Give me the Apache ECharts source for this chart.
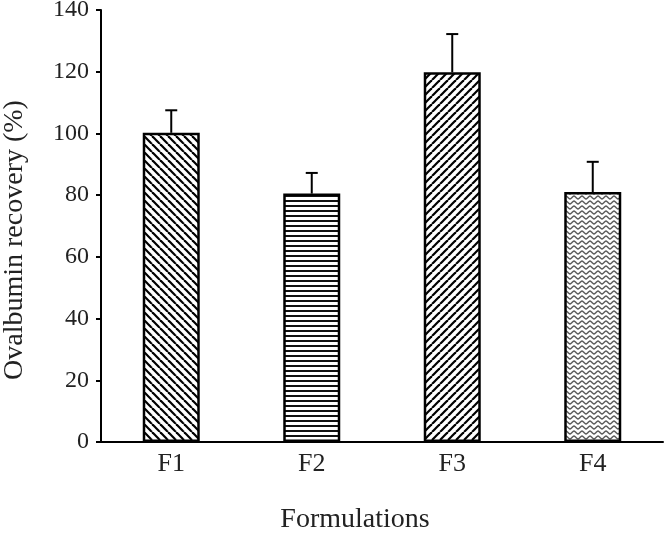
<!DOCTYPE html>
<html><head><meta charset="utf-8">
<script src="https://cdn.jsdelivr.net/npm/echarts@6/dist/echarts.min.js"></script>
<style>html,body{margin:0;padding:0;background:#fff}#c{width:666px;height:533px}</style>
</head><body><div id="c"></div>
<script>
var categories = ['F1', 'F2', 'F3', 'F4'];
var recovery = [100.2, 80.5, 119.8, 81.0];
var errorUp = [7.3, 6.7, 12.4, 9.8];
var yTicks = [0, 20, 40, 60, 80, 100, 120, 140];

function makePattern(kind) {
  var c = document.createElement('canvas');
  var ctx;
  if (kind === 'back') {
    c.width = 8; c.height = 8; ctx = c.getContext('2d');
    ctx.fillStyle = '#fff'; ctx.fillRect(0,0,8,8);
    ctx.strokeStyle = '#000'; ctx.lineWidth = 2.2;
    for (var k = -8; k <= 16; k += 8) { ctx.beginPath(); ctx.moveTo(k, 0); ctx.lineTo(k + 8, 8); ctx.stroke(); }
  } else if (kind === 'fwd') {
    c.width = 8; c.height = 8; ctx = c.getContext('2d');
    ctx.fillStyle = '#fff'; ctx.fillRect(0,0,8,8);
    ctx.strokeStyle = '#000'; ctx.lineWidth = 2.2;
    for (var k = -8; k <= 16; k += 8) { ctx.beginPath(); ctx.moveTo(k, 8); ctx.lineTo(k + 8, 0); ctx.stroke(); }
  } else if (kind === 'horiz') {
    c.width = 4; c.height = 5; ctx = c.getContext('2d');
    ctx.fillStyle = '#fff'; ctx.fillRect(0,0,4,5);
    ctx.fillStyle = '#111'; ctx.fillRect(0,0,4,2);
  } else {
    c.width = 8; c.height = 5; ctx = c.getContext('2d');
    ctx.fillStyle = '#fff'; ctx.fillRect(0,0,8,5);
    ctx.strokeStyle = '#5e5e5e'; ctx.lineWidth = 1.5;
    ctx.beginPath();
    for (var x = -1; x <= 9; x += 0.5) {
      var y = 2.5 + 1.4 * Math.sin(x / 8 * 2 * Math.PI);
      if (x === -1) ctx.moveTo(x, y); else ctx.lineTo(x, y);
    }
    ctx.stroke();
  }
  return { image: c, repeat: 'repeat' };
}
var patterns = [makePattern('back'), makePattern('horiz'), makePattern('fwd'), makePattern('wave')];

var chart = echarts.init(document.getElementById('c'), null, { renderer: 'canvas' });
var font = '"Liberation Serif", "Times New Roman", serif';
chart.setOption({
  animation: false,
  grid: { left: 101, right: 3, top: 10, bottom: 91, containLabel: false, outerBoundsMode: 'none' },
  xAxis: {
    type: 'category', data: categories,
    name: 'Formulations', nameLocation: 'middle', nameGap: 64, nameMoveOverlap: false,
    nameTextStyle: { fontFamily: font, fontSize: 28, color: '#222', padding: [0, 54, 0, 0] },
    axisLine: { lineStyle: { color: '#000', width: 2 } },
    axisTick: { show: false },
    axisLabel: { fontFamily: font, fontSize: 26, color: '#222', margin: 9 }
  },
  yAxis: {
    type: 'value', min: 0, max: 140, interval: 20,
    name: 'Ovalbumin recovery (%)', nameLocation: 'middle', nameGap: 72, nameMoveOverlap: false,
    nameTextStyle: { fontFamily: font, fontSize: 28, color: '#222', padding: [0, 28, 0, 0] },
    axisLine: { show: true, lineStyle: { color: '#000', width: 2 } },
    axisTick: { show: true, inside: false, length: 5, lineStyle: { color: '#000', width: 2 } },
    splitLine: { show: false },
    axisLabel: { fontFamily: font, fontSize: 24, color: '#222', margin: 12,
      formatter: function (v) { return yTicks.indexOf(v) >= 0 ? String(v) : ''; } }
  },
  series: [
    {
      type: 'bar', barWidth: 57,
      data: recovery.map(function (v, i) {
        return { value: v, itemStyle: { color: patterns[i], borderColor: '#000', borderWidth: 2.5 } };
      }),
      z: 2
    },
    {
      type: 'custom', z: 3,
      data: recovery.map(function (v, i) { return [i, v, v + errorUp[i]]; }),
      renderItem: function (params, api) {
        var base = api.coord([api.value(0), api.value(1)]);
        var top = api.coord([api.value(0), api.value(2)]);
        var hw = 6;
        return {
          type: 'group',
          children: [
            { type: 'line', shape: { x1: base[0], y1: base[1], x2: top[0], y2: top[1] }, style: { stroke: '#000', lineWidth: 2 } },
            { type: 'line', shape: { x1: top[0] - hw, y1: top[1], x2: top[0] + hw, y2: top[1] }, style: { stroke: '#000', lineWidth: 2 } }
          ]
        };
      }
    }
  ]
});
</script></body></html>
